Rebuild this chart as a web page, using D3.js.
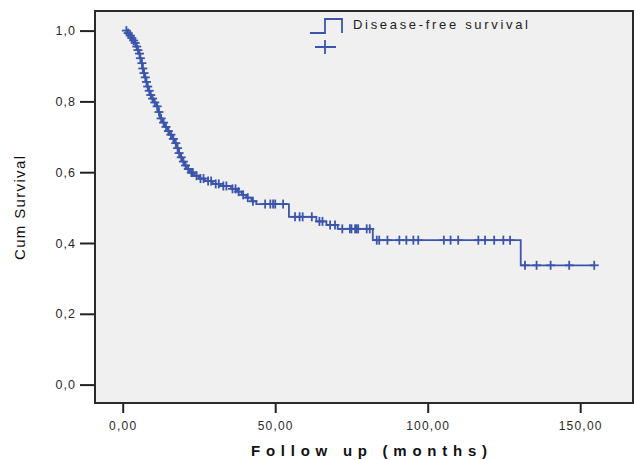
<!DOCTYPE html>
<html>
<head>
<meta charset="utf-8">
<script src="https://cdn.jsdelivr.net/npm/d3@7"></script>
<style>
  body { margin: 0; background: #fff; }
  svg { display: block; font-family: "Liberation Sans", Arial, sans-serif; }
</style>
</head>
<body>
<div id="chart"></div>
<script>
// event times (months) and survival after each event
var eventTimes = [1.5, 2.2, 2.8, 3.4, 3.9, 4.4, 4.9, 5.3, 5.7, 6.1, 6.5, 6.8, 7.2, 7.6, 8.0, 8.5, 9.0, 9.5,
  10.2, 11.0, 11.6, 12.2, 13.0, 13.8, 14.6, 15.3, 16.2, 17.0, 17.7, 18.2, 18.8, 19.5, 20.2, 21.0, 22.0,
  23.5, 25.0, 27.0, 29.5, 32.0, 35.5, 37.5, 39.0, 40.5, 42.2, 43.8, 54.5, 63.5, 66.8, 70.5, 82.0, 130.5];
var survival = [0.993, 0.986, 0.979, 0.972, 0.965, 0.955, 0.945, 0.935, 0.922, 0.908, 0.893, 0.880, 0.868, 0.855,
  0.842, 0.830, 0.818, 0.808, 0.797, 0.786, 0.770, 0.752, 0.740, 0.728, 0.716, 0.706, 0.694, 0.682, 0.668,
  0.654, 0.642, 0.630, 0.619, 0.609, 0.599, 0.590, 0.582, 0.575, 0.567, 0.561, 0.553, 0.545, 0.536, 0.528,
  0.518, 0.510, 0.474, 0.461, 0.451, 0.440, 0.408, 0.337];
// censored cases
var censorTimes = [1.2, 1.8, 2.5, 3.0, 3.6, 4.1, 4.6, 5.0, 5.5, 5.8, 6.3, 6.6, 7.0, 7.4, 7.8, 8.2, 8.7, 9.2, 9.8,
  10.5, 11.3, 11.9, 12.6, 13.4, 14.2, 15.0, 15.8, 16.6, 17.4, 18.0, 18.5, 19.2, 19.9, 20.6, 21.5, 22.5, 23.0,
  24.2, 25.5, 26.5, 28.0, 29.0, 30.5, 31.5, 33.0, 34.0, 36.0, 37.0, 38.0, 39.5, 41.0, 42.7, 46.7, 48.4, 49.3,
  50.0, 52.6, 56.5, 58.0, 59.0, 62.0, 64.5, 65.5, 68.0, 69.6, 72.0, 74.5, 75.0, 76.2, 76.7, 77.2, 80.0, 81.0,
  83.3, 84.1, 86.8, 90.7, 93.0, 95.3, 96.9, 105.3, 107.5, 110.0, 116.6, 118.8, 121.8, 124.8, 127.0,
  131.9, 135.7, 140.3, 146.4, 154.6];
var endTime = 154.6;
var xTicks = [0, 50, 100, 150];
var yTicks = [0, 0.2, 0.4, 0.6, 0.8, 1.0];
var legendLabel = "Disease-free survival";

var width = 634, height = 460;
var blue = "#3b55ad";

var svg = d3.select("#chart").append("svg")
  .attr("width", width)
  .attr("height", height);

var x = d3.scaleLinear().domain([0, 50]).range([122.7, 275.2]);
var y = d3.scaleLinear().domain([0, 1]).range([384.6, 30.6]);

// plot frame
svg.append("rect")
  .attr("x", 95).attr("y", 11)
  .attr("width", 538).attr("height", 392)
  .attr("fill", "#f0f0f0")
  .attr("stroke", "#2a2a2a")
  .attr("stroke-width", 2);

var comma = d => d3.format(".1f")(d).replace(".", ",");
var comma2 = d => d3.format(".2f")(d).replace(".", ",");

// Y axis
var yAxis = svg.append("g")
  .attr("transform", "translate(94,0)")
  .call(d3.axisLeft(y).tickValues(yTicks).tickSize(14).tickPadding(4).tickFormat(comma));
yAxis.select(".domain").remove();
yAxis.selectAll("line").attr("stroke", "#222").attr("stroke-width", 2);
yAxis.selectAll("text")
  .attr("fill", "#2a2a2a")
  .style("font-size", "12.5px")
  .style("letter-spacing", "1px");

// X axis
var xAxis = svg.append("g")
  .attr("transform", "translate(0,404)")
  .call(d3.axisBottom(x).tickValues(xTicks).tickSize(9).tickPadding(8).tickFormat(comma2));
xAxis.select(".domain").remove();
xAxis.selectAll("line").attr("stroke", "#222").attr("stroke-width", 2);
xAxis.selectAll("text")
  .attr("fill", "#2a2a2a")
  .style("font-size", "12px")
  .style("letter-spacing", "1.2px");

// axis titles
svg.append("text")
  .attr("x", 369).attr("y", 456)
  .attr("text-anchor", "middle")
  .attr("font-size", 15).attr("font-weight", "bold")
  .attr("fill", "#111")
  .attr("textLength", 236)
  .text("Follow up (months)");

svg.append("text")
  .attr("transform", "translate(25,208) rotate(-90)")
  .attr("text-anchor", "middle")
  .attr("font-size", 15)
  .attr("fill", "#111")
  .attr("textLength", 104)
  .text("Cum Survival");

// step curve
var pts = [[0, 1]];
eventTimes.forEach(function(t, i) {
  pts.push([t, i === 0 ? 1 : survival[i - 1]]);
  pts.push([t, survival[i]]);
});
pts.push([endTime, survival[survival.length - 1]]);
pts = pts.filter(p => p[0] >= 1.2);
pts.unshift([1.2, 1]);

svg.append("path")
  .datum(pts)
  .attr("fill", "none")
  .attr("stroke", blue)
  .attr("stroke-width", 1.8)
  .attr("d", d3.line().x(d => x(d[0])).y(d => y(d[1])));

function survAt(t) {
  var s = 1;
  eventTimes.forEach(function(e, i) { if (e <= t) s = survival[i]; });
  return s;
}

// censor marks
var marks = svg.append("g").attr("stroke", blue).attr("stroke-width", 1.8);
censorTimes.forEach(function(t) {
  var cx = x(t), cy = y(survAt(t));
  marks.append("line").attr("x1", cx).attr("x2", cx).attr("y1", cy - 4.5).attr("y2", cy + 4.5);
  marks.append("line").attr("x1", cx - 4.5).attr("x2", cx + 4.5).attr("y1", cy).attr("y2", cy);
});

// legend
var lg = svg.append("g").attr("stroke", blue).attr("stroke-width", 1.8).attr("fill", "none");
lg.append("path").attr("d", "M310,33H325V19H342V33");
lg.append("path").attr("d", "M315,47H336M325,40V54");
svg.append("text")
  .attr("x", 353).attr("y", 29)
  .attr("font-size", 13)
  .attr("fill", "#222")
  .attr("textLength", 175)
  .text(legendLabel);
</script>
</body>
</html>
